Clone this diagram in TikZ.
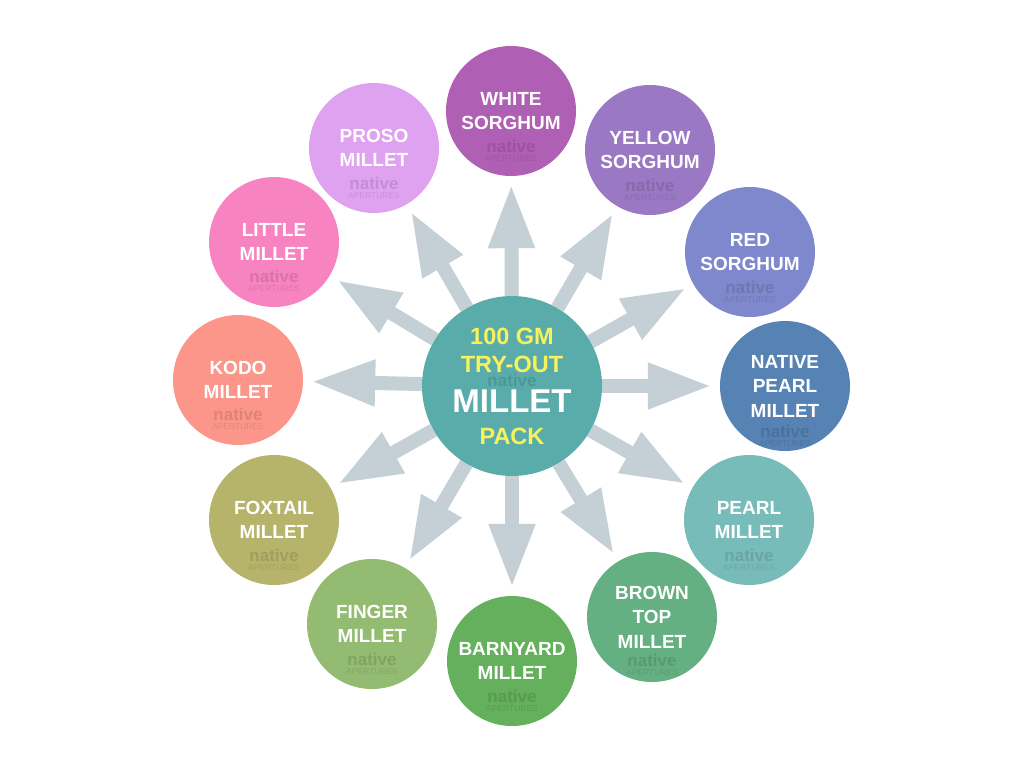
\documentclass[tikz,border=0pt]{standalone}
\usepackage{fontspec}
\setmainfont{Liberation Sans}
\usepackage{xcolor}
\usetikzlibrary{arrows.meta, backgrounds}

\definecolor{hubteal}{RGB}{90,172,171}
\definecolor{packyellow}{RGB}{248,242,92}
\definecolor{spokegray}{RGB}{197,207,214}
\definecolor{cwhite}{RGB}{176,96,180}
\definecolor{cyellow}{RGB}{155,120,195}
\definecolor{cred}{RGB}{127,136,204}
\definecolor{cnative}{RGB}{86,130,180}
\definecolor{cpearl}{RGB}{120,188,186}
\definecolor{cbrown}{RGB}{101,176,130}
\definecolor{cbarnyard}{RGB}{100,176,92}
\definecolor{cfinger}{RGB}{147,187,113}
\definecolor{cfoxtail}{RGB}{182,180,106}
\definecolor{ckodo}{RGB}{253,150,138}
\definecolor{clittle}{RGB}{247,132,192}
\definecolor{cproso}{RGB}{223,162,240}

\begin{document}
\begin{tikzpicture}[
    x=1pt, y=-1pt,
    grain/.style={circle, inner sep=0pt, minimum size=130pt, text=white, align=center, font=\bfseries\fontsize{19}{24.5}\selectfont},
    hub/.style={circle, inner sep=0pt, minimum size=180pt, fill=hubteal},
    hubtext/.style={anchor=base, inner sep=0pt, text=packyellow, font=\bfseries\fontsize{23.5}{28}\selectfont},
    stamp/.style={inner sep=0pt, text=black, text opacity=0.12, font=\bfseries\fontsize{17}{17}\selectfont},
    stampsub/.style={inner sep=0pt, text=black, text opacity=0.1, font=\fontsize{8.5}{8.5}\selectfont},
    spoke/.style={line width=14pt, draw=spokegray, -{Triangle[width=43pt, length=64pt]}, shorten >=8pt}
]
\useasboundingbox (0,0) rectangle (1024,768);

\node[hub] (pack) at (512,386) {};
\node[grain, fill=cwhite] (white) at (511,111) {WHITE\\SORGHUM};
\node[grain, fill=cyellow] (yellow) at (650,150) {YELLOW\\SORGHUM};
\node[grain, fill=cred] (red) at (750,252) {RED\\SORGHUM};
\node[grain, fill=cnative] (native) at (785,386) {NATIVE\\PEARL\\MILLET};
\node[grain, fill=cpearl] (pearl) at (749,520) {PEARL\\MILLET};
\node[grain, fill=cbrown] (browntop) at (652,617) {BROWN\\TOP\\MILLET};
\node[grain, fill=cbarnyard] (barnyard) at (512,661) {BARNYARD\\MILLET};
\node[grain, fill=cfinger] (finger) at (372,624) {FINGER\\MILLET};
\node[grain, fill=cfoxtail] (foxtail) at (274,520) {FOXTAIL\\MILLET};
\node[grain, fill=ckodo] (kodo) at (238,380) {KODO\\MILLET};
\node[grain, fill=clittle] (little) at (274,242) {LITTLE\\MILLET};
\node[grain, fill=cproso] (proso) at (374,148) {PROSO\\MILLET};

% watermarks
\node[stamp] (pack-wm) at (512,380) {native};
\node[stamp] (white-wm) at (511,146) {native};
\node[stampsub] (white-wms) at (511,159) {APERTURES};
\node[stamp] (yellow-wm) at (650,185) {native};
\node[stampsub] (yellow-wms) at (650,198) {APERTURES};
\node[stamp] (red-wm) at (750,287) {native};
\node[stampsub] (red-wms) at (750,300) {APERTURES};
\node[stamp] (native-wm) at (785,431) {native};
\node[stampsub] (native-wms) at (785,444) {APERTURES};
\node[stamp] (pearl-wm) at (749,555) {native};
\node[stampsub] (pearl-wms) at (749,568) {APERTURES};
\node[stamp] (browntop-wm) at (652,660) {native};
\node[stampsub] (browntop-wms) at (652,673) {APERTURES};
\node[stamp] (barnyard-wm) at (512,696) {native};
\node[stampsub] (barnyard-wms) at (512,709) {APERTURES};
\node[stamp] (finger-wm) at (372,659) {native};
\node[stampsub] (finger-wms) at (372,672) {APERTURES};
\node[stamp] (foxtail-wm) at (274,555) {native};
\node[stampsub] (foxtail-wms) at (274,568) {APERTURES};
\node[stamp] (kodo-wm) at (238,414) {native};
\node[stampsub] (kodo-wms) at (238,427) {APERTURES};
\node[stamp] (little-wm) at (274,276) {native};
\node[stampsub] (little-wms) at (274,289) {APERTURES};
\node[stamp] (proso-wm) at (374,183) {native};
\node[stampsub] (proso-wms) at (374,196) {APERTURES};

% pack title
\node[hubtext] (packA) at (512,344) {100 GM};
\node[hubtext] (packB) at (512,372) {TRY-OUT};
\node[hubtext, text=white, font=\bfseries\fontsize{33}{33}\selectfont] (packC) at (512,412) {MILLET};
\node[hubtext] (packD) at (512,444) {PACK};

\begin{scope}[on background layer]
\draw[spoke] (pack) -- (white);
\draw[spoke] (pack) -- (yellow);
\draw[spoke] (pack) -- (red);
\draw[spoke] (pack) -- (native);
\draw[spoke] (pack) -- (pearl);
\draw[spoke] (pack) -- (browntop);
\draw[spoke] (pack) -- (barnyard);
\draw[spoke] (pack) -- (finger);
\draw[spoke] (pack) -- (foxtail);
\draw[spoke] (pack) -- (kodo);
\draw[spoke] (pack) -- (little);
\draw[spoke] (pack) -- (proso);
\end{scope}
\end{tikzpicture}
\end{document}
